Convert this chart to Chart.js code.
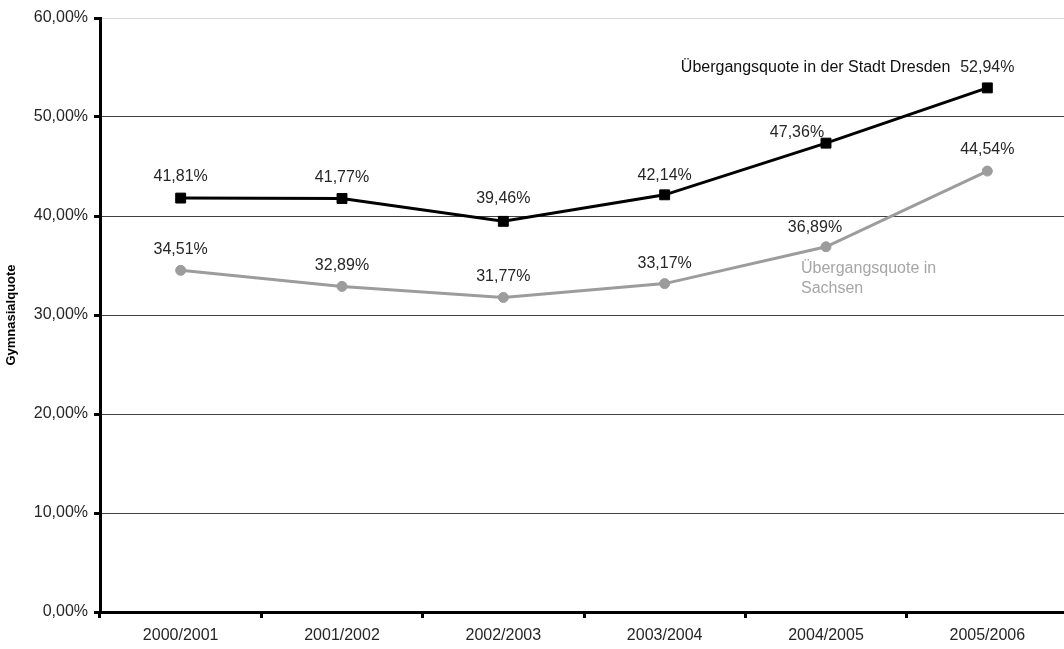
<!DOCTYPE html>
<html>
<head>
<meta charset="utf-8">
<script src="https://cdn.jsdelivr.net/npm/chart.js@4/dist/chart.umd.min.js"></script>
<style>
  html, body { margin: 0; padding: 0; overflow: hidden; background: #fff; }
  #c { display: block; }
</style>
</head>
<body>
<canvas id="c" width="1076" height="649" style="width:1076px;height:649px"></canvas>
<script>
const categories = ['2000/2001', '2001/2002', '2002/2003', '2003/2004', '2004/2005', '2005/2006'];
const dresden = [41.81, 41.77, 39.46, 42.14, 47.36, 52.94];
const sachsen = [34.51, 32.89, 31.77, 33.17, 36.89, 44.54];
const seriesNames = ['Übergangsquote in der Stadt Dresden', 'Übergangsquote in Sachsen'];
const yTitle = 'Gymnasialquote';
const yMin = 0, yMax = 60, yStep = 10;

const FONT = '"Liberation Sans", Arial, sans-serif';
const TEXT = '#262626';
const fmt = v => v.toFixed(2).replace('.', ',') + '%';

// label placement tweaks (pixel offsets from point), per dataset
const LABEL_SHIFTS = [
  { 2: [0, -23], 3: [0, -19], 4: [-29, -11], 5: [0, -20] },
  { 3: [0, -20], 4: [-11, -19] }
];

const labelPlugin = {
  id: 'valueLabels',
  afterDatasetsDraw(chart) {
    const ctx = chart.ctx;
    ctx.save();
    ctx.font = '16px ' + FONT;
    ctx.textBaseline = 'middle';
    chart.data.datasets.forEach((ds, di) => {
      const meta = chart.getDatasetMeta(di);
      const shifts = LABEL_SHIFTS[di] || {};
      meta.data.forEach((pt, i) => {
        const s = shifts[i] || [0, -21];
        ctx.fillStyle = TEXT;
        ctx.textAlign = 'center';
        ctx.fillText(fmt(ds.data[i]), pt.x + s[0], pt.y + s[1]);
      });
    });
    const m0 = chart.getDatasetMeta(0).data[5];
    ctx.fillStyle = '#111';
    ctx.textAlign = 'right';
    ctx.fillText(seriesNames[0], m0.x - 37, m0.y - 20);
    const m1 = chart.getDatasetMeta(1).data[4];
    ctx.fillStyle = '#a6a6a6';
    ctx.textAlign = 'left';
    const words = seriesNames[1].split(' ');
    ctx.fillText(words.slice(0, 2).join(' '), m1.x - 25, m1.y + 22);
    ctx.fillText(words.slice(2).join(' '), m1.x - 25, m1.y + 42);
    ctx.restore();
  }
};

new Chart(document.getElementById('c'), {
  type: 'line',
  data: {
    labels: categories,
    datasets: [
      {
        label: seriesNames[0],
        data: dresden,
        borderColor: '#000',
        backgroundColor: '#000',
        borderWidth: 3,
        pointStyle: 'rect',
        pointRadius: 7,
        pointBorderWidth: 1,
        tension: 0
      },
      {
        label: seriesNames[1],
        data: sachsen,
        borderColor: '#9c9c9c',
        backgroundColor: '#9c9c9c',
        borderWidth: 3,
        pointStyle: 'circle',
        pointRadius: 5,
        pointBorderWidth: 1,
        tension: 0
      }
    ]
  },
  options: {
    responsive: false,
    animation: false,
    layout: { padding: { top: 18, right: 0, bottom: 0, left: 0 } },
    plugins: {
      legend: { display: false },
      tooltip: { enabled: false }
    },
    scales: {
      x: {
        offset: true,
        afterFit: s => { s.height = 37; },
        border: { display: true, color: '#000', width: 3 },
        grid: {
          offset: true,
          drawOnChartArea: false,
          drawTicks: true,
          tickLength: 6,
          tickWidth: 3,
          tickColor: '#000'
        },
        ticks: { color: TEXT, font: { family: FONT, size: 16 }, padding: 8, maxRotation: 0 }
      },
      y: {
        min: yMin,
        max: yMax,
        afterFit: s => { s.width = 100; },
        border: { display: true, color: '#000', width: 3 },
        grid: {
          color: ctx => (ctx.tick && ctx.tick.value === yMax) ? '#d9d9d9' : '#404040',
          lineWidth: 1,
          drawTicks: true,
          tickLength: 6,
          tickWidth: 3,
          tickColor: '#000'
        },
        ticks: {
          stepSize: yStep,
          color: TEXT,
          font: { family: FONT, size: 16 },
          padding: 6,
          callback: v => fmt(v)
        },
        title: {
          display: true,
          text: yTitle,
          color: '#000',
          font: { family: FONT, size: 13, weight: 'bold' },
          padding: { top: 4, bottom: 0 }
        }
      }
    }
  },
  plugins: [labelPlugin]
});
</script>
</body>
</html>
